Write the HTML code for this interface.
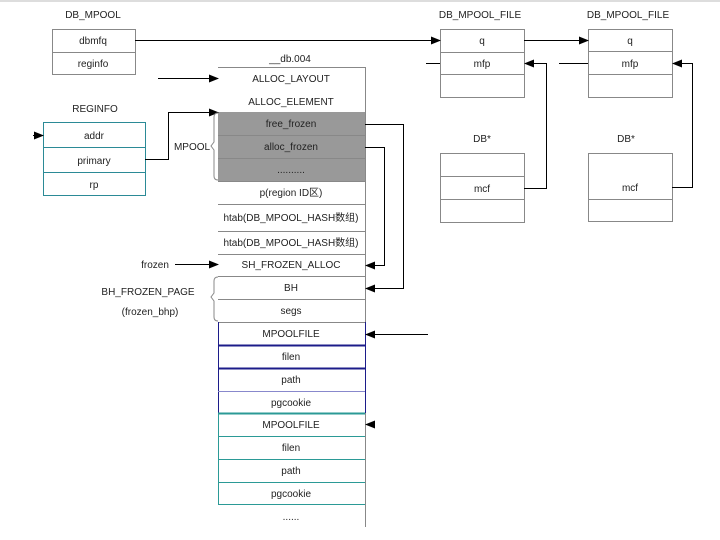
<!DOCTYPE html>
<html><head><meta charset="utf-8"><style>body{margin:0;background:#fff}svg{display:block}text{font-family:"Liberation Sans","Noto Sans CJK SC",sans-serif;font-size:10px;fill:#222}</style></head><body>
<svg width="720" height="540" viewBox="0 0 720 540" xmlns="http://www.w3.org/2000/svg">
<defs><marker id="a" markerWidth="10" markerHeight="8" refX="9" refY="4" orient="auto" markerUnits="userSpaceOnUse"><path d="M0,0L10,4L0,8z" fill="#000"/></marker></defs>
<rect x="0" y="0" width="720" height="2" fill="#ddd"/>
<g stroke="#888" fill="none" stroke-width="1">
<rect x="52.5" y="29.5" width="83" height="45"/><line x1="52" y1="52.5" x2="135" y2="52.5"/>
<rect x="440.5" y="29.5" width="84" height="68"/><line x1="440" y1="52.5" x2="524" y2="52.5"/><line x1="440" y1="74.5" x2="524" y2="74.5"/>
<rect x="588.5" y="29.5" width="84" height="68"/><line x1="588" y1="51.5" x2="672" y2="51.5"/><line x1="588" y1="74.5" x2="672" y2="74.5"/>
<rect x="440.5" y="153.5" width="84" height="69"/><line x1="440" y1="176.5" x2="524" y2="176.5"/><line x1="440" y1="199.5" x2="524" y2="199.5"/>
<rect x="588.5" y="153.5" width="84" height="68"/><line x1="588" y1="199.5" x2="672" y2="199.5"/>
</g>
<g stroke="#2b8a96" fill="none"><rect x="43.5" y="122.5" width="102" height="73"/><line x1="43" y1="147.5" x2="145" y2="147.5"/><line x1="43" y1="172.5" x2="145" y2="172.5"/></g>
<rect x="218" y="112" width="147" height="69" fill="#999"/>
<g stroke="#888"><line x1="218" y1="67.5" x2="365" y2="67.5"/><line x1="365.5" y1="67" x2="365.5" y2="527"/>
<line x1="218" y1="135.5" x2="365" y2="135.5"/><line x1="218" y1="158.5" x2="365" y2="158.5"/><line x1="218" y1="181.5" x2="365" y2="181.5"/>
<line x1="218" y1="204.5" x2="365" y2="204.5"/><line x1="218" y1="231.5" x2="365" y2="231.5"/><line x1="218" y1="254.5" x2="365" y2="254.5"/>
<line x1="218" y1="276.5" x2="365" y2="276.5"/><line x1="218" y1="299.5" x2="365" y2="299.5"/><line x1="218" y1="322.5" x2="365" y2="322.5"/></g>
<g stroke="#1c1c8a" fill="none"><line x1="218.5" y1="322" x2="218.5" y2="413"/><line x1="365.5" y1="322" x2="365.5" y2="413"/>
<line x1="218" y1="345.5" x2="365" y2="345.5" stroke-width="2"/><line x1="218" y1="368.5" x2="365" y2="368.5" stroke-width="2"/><line x1="218" y1="391.5" x2="365" y2="391.5" stroke="#8888cc"/></g>
<g stroke="#2b9a96" fill="none"><line x1="218.5" y1="413" x2="218.5" y2="504"/><line x1="218" y1="413.5" x2="365" y2="413.5" stroke-width="2"/>
<line x1="218" y1="436.5" x2="365" y2="436.5"/><line x1="218" y1="459.5" x2="365" y2="459.5"/><line x1="218" y1="482.5" x2="365" y2="482.5"/><line x1="218" y1="504.5" x2="365" y2="504.5"/></g>
<g stroke="#000" fill="none" stroke-width="1">
<line x1="135" y1="40.5" x2="440" y2="40.5" marker-end="url(#a)"/>
<line x1="524" y1="40.5" x2="588" y2="40.5" marker-end="url(#a)"/>
<line x1="426" y1="63.5" x2="440" y2="63.5"/><line x1="559" y1="63.5" x2="588" y2="63.5"/>
<polyline points="524,188.5 546.5,188.5 546.5,63.5 525,63.5" marker-end="url(#a)"/>
<polyline points="672,187.5 692.5,187.5 692.5,63.5 673,63.5" marker-end="url(#a)"/>
<line x1="158" y1="78.5" x2="218" y2="78.5" marker-end="url(#a)"/>
<polyline points="145,159.5 168.5,159.5 168.5,112.5 218,112.5" marker-end="url(#a)"/>
<line x1="33" y1="135.5" x2="43" y2="135.5" marker-end="url(#a)"/>
<polyline points="365,124.5 403.5,124.5 403.5,288.5 366,288.5" marker-end="url(#a)"/>
<polyline points="365,147.5 384.5,147.5 384.5,265.5 366,265.5" marker-end="url(#a)"/>
<line x1="175" y1="264.5" x2="218" y2="264.5" marker-end="url(#a)"/>
<line x1="428" y1="334.5" x2="366" y2="334.5" marker-end="url(#a)"/>
<line x1="374" y1="424.5" x2="366" y2="424.5" marker-end="url(#a)"/>
</g>
<g stroke="#888" fill="none"><path d="M218,113 q-4,0 -4,4 v25 l-3,4 l3,4 v26 q0,4 4,4"/><path d="M218,277 q-4,0 -4,4 v12 l-3,4 l3,4 v16 q0,4 4,4"/></g>
<g text-anchor="middle">
<text x="93" y="18">DB_MPOOL</text><text x="93" y="44">dbmfq</text><text x="93" y="67">reginfo</text>
<text x="480" y="18">DB_MPOOL_FILE</text><text x="482" y="44">q</text><text x="482" y="67">mfp</text>
<text x="628" y="18">DB_MPOOL_FILE</text><text x="630" y="44">q</text><text x="630" y="67">mfp</text>
<text x="482" y="142">DB*</text><text x="482" y="192">mcf</text><text x="626" y="142">DB*</text><text x="630" y="191">mcf</text>
<text x="95" y="112">REGINFO</text><text x="94" y="139">addr</text><text x="94" y="164">primary</text><text x="94" y="188">rp</text>
<text x="290" y="62">__db.004</text>
<text x="291" y="82">ALLOC_LAYOUT</text><text x="291" y="105">ALLOC_ELEMENT</text>
<text x="291" y="127">free_frozen</text><text x="291" y="150">alloc_frozen</text><text x="291" y="173">..........</text>
<text x="291" y="196">p(region ID区)</text><text x="291" y="221">htab(DB_MPOOL_HASH数组)</text><text x="291" y="246">htab(DB_MPOOL_HASH数组)</text>
<text x="291" y="268">SH_FROZEN_ALLOC</text><text x="291" y="291">BH</text><text x="291" y="314">segs</text>
<text x="291" y="337">MPOOLFILE</text><text x="291" y="360">filen</text><text x="291" y="383">path</text><text x="291" y="406">pgcookie</text>
<text x="291" y="428">MPOOLFILE</text><text x="291" y="451">filen</text><text x="291" y="474">path</text><text x="291" y="497">pgcookie</text><text x="291" y="520">......</text>
<text x="192" y="150">MPOOL</text>
<text x="148" y="295">BH_FROZEN_PAGE</text><text x="150" y="315">(frozen_bhp)</text>
<text x="155" y="268">frozen</text>
</g>
</svg>
</body></html>
